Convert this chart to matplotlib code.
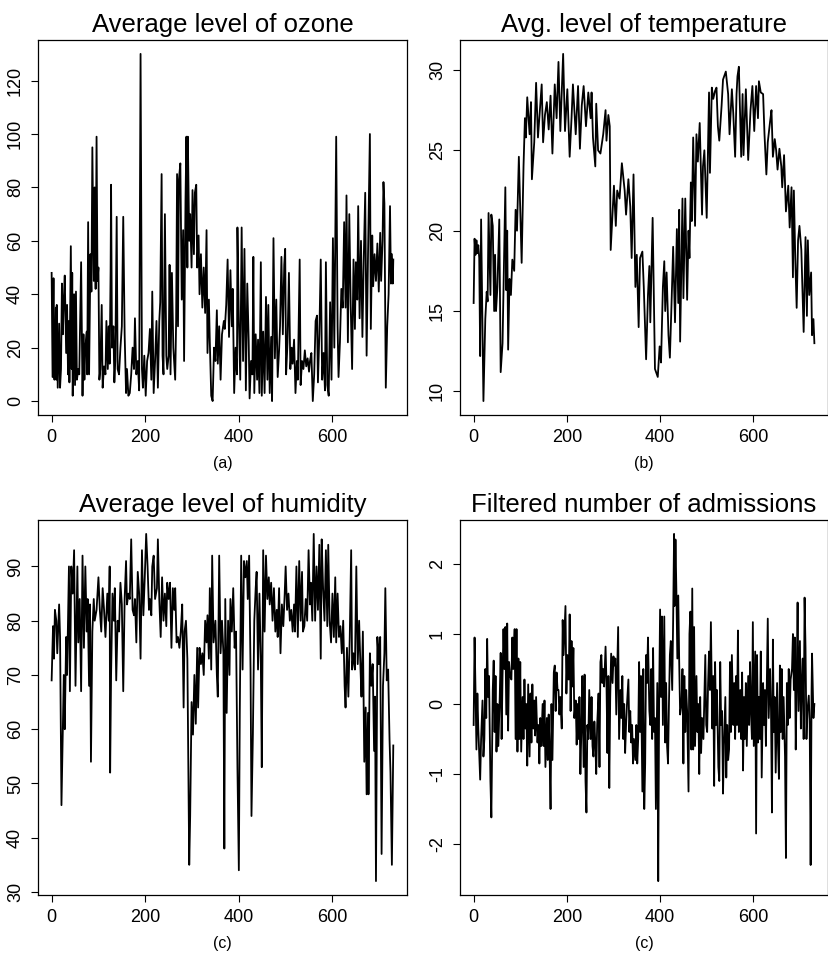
import matplotlib
matplotlib.use("Agg")
import matplotlib.pyplot as plt
import numpy as np

plt.rcParams["font.family"] = ["Liberation Sans", "DejaVu Sans"]
plt.rcParams["axes.unicode_minus"] = False

# values, day index -> level
ozone_day = [
    0, 2, 4, 5, 6, 9, 10, 11, 13, 16,
    18, 20, 22, 24, 26, 28, 31, 33, 35, 37,
    38, 41, 43, 44, 45, 48, 50, 52, 54, 57,
    59, 63, 66, 68, 70, 72, 75, 76, 78, 80,
    83, 85, 87, 90, 92, 94, 96, 98, 100, 102,
    104, 107, 109, 112, 115, 117, 120, 122, 124, 126,
    127, 129, 132, 134, 136, 139, 141, 144, 147, 150,
    153, 156, 159, 161, 164, 167, 170, 173, 176, 178,
    181, 184, 187, 190, 193, 195, 198, 201, 204, 207,
    210, 213, 215, 218, 221, 224, 227, 230, 232, 235,
    237, 239, 242, 245, 247, 250, 252, 254, 257, 260,
    264, 266, 268, 270, 272, 275, 278, 281, 283, 286,
    288, 290, 291, 294, 296, 299, 301, 304, 306, 309,
    311, 314, 316, 319, 322, 325, 328, 331, 333, 336,
    338, 341, 344, 347, 350, 353, 355, 358, 361, 364,
    368, 370, 373, 376, 379, 382, 385, 387, 390, 393,
    396, 397, 400, 403, 406, 409, 412, 415, 418, 421,
    423, 426, 429, 431, 433, 436, 439, 441, 444, 447,
    449, 452, 455, 458, 461, 463, 466, 469, 471, 474,
    477, 480, 483, 486, 488, 491, 494, 497, 499, 501,
    504, 507, 510, 513, 515, 518, 521, 524, 526, 530,
    532, 535, 538, 541, 544, 547, 550, 552, 555, 558,
    561, 564, 567, 569, 572, 575, 578, 581, 584, 586,
    589, 592, 595, 598, 601, 604, 608, 611, 613, 616,
    619, 622, 625, 628, 630, 633, 636, 639, 642, 645,
    648, 650, 653, 655, 658, 661, 664, 667, 670, 673,
    676, 680, 682, 685, 687, 690, 693, 696, 699, 702,
    704, 707, 709, 711, 714, 717, 720, 723, 725, 727,
    729, 730,
]
ozone = [
    48, 9, 46, 20, 8, 35, 8, 36, 5, 29,
    5, 12, 44, 25, 38, 47, 18, 36, 10, 30,
    7, 58, 12, 48, 2, 40, 6, 41, 8, 12,
    10, 52, 2, 25, 8, 20, 26, 10, 67, 10,
    55, 41, 95, 45, 80, 42, 99, 45, 50, 8,
    12, 36, 5, 13, 10, 30, 12, 28, 14, 49,
    81, 20, 28, 7, 15, 69, 12, 10, 20, 28,
    69, 25, 3, 12, 2, 3, 10, 20, 12, 31,
    10, 15, 4, 130, 12, 5, 17, 2, 15, 18,
    27, 8, 41, 3, 15, 30, 5, 30, 37, 85,
    17, 10, 70, 17, 12, 17, 51, 10, 48, 20,
    8, 30, 85, 28, 83, 89, 38, 64, 15, 75,
    99, 50, 99, 60, 70, 50, 79, 55, 78, 81,
    50, 62, 40, 55, 35, 50, 33, 64, 18, 38,
    22, 2, 0, 20, 15, 34, 14, 28, 8, 25,
    30, 27, 36, 53, 24, 49, 28, 42, 3, 20,
    10, 65, 30, 8, 65, 15, 57, 4, 44, 23,
    1, 15, 10, 54, 3, 25, 8, 23, 3, 52,
    2, 26, 3, 39, 8, 36, 3, 24, 0, 61,
    16, 38, 9, 19, 28, 54, 25, 51, 57, 10,
    22, 48, 12, 20, 14, 23, 3, 15, 8, 53,
    6, 15, 12, 19, 13, 16, 11, 15, 18, 0,
    10, 30, 32, 7, 25, 53, 8, 18, 4, 52,
    6, 2, 37, 8, 61, 20, 99, 28, 9, 22,
    42, 35, 67, 35, 77, 22, 70, 36, 12, 53,
    27, 52, 38, 73, 31, 60, 24, 54, 78, 17,
    55, 100, 27, 62, 43, 55, 45, 59, 41, 63,
    45, 60, 82, 74, 5, 28, 40, 73, 44, 55,
    44, 53,
]

temp_day = [
    0, 2, 4, 6, 8, 10, 12, 14, 16, 21,
    25, 28, 30, 32, 36, 38, 41, 44, 46, 48,
    51, 55, 58, 62, 68, 70, 72, 74, 77, 80,
    83, 87, 90, 93, 97, 103, 107, 110, 112, 115,
    120, 123, 125, 130, 134, 138, 142, 146, 149, 153,
    157, 161, 165, 169, 174, 178, 182, 186, 192, 196,
    201, 206, 210, 213, 219, 224, 228, 232, 236, 241,
    246, 251, 253, 256, 261, 263, 267, 272, 278, 283,
    285, 289, 292, 294, 297, 301, 305, 308, 313, 318,
    324, 327, 332, 336, 339, 343, 347, 350, 354, 357,
    362, 365, 370, 374, 377, 379, 384, 389, 395, 399,
    402, 406, 409, 411, 414, 418, 421, 425, 428, 432,
    436, 439, 441, 443, 448, 450, 454, 458, 461, 463,
    466, 468, 471, 475, 478, 481, 485, 490, 492, 495,
    500, 505, 507, 511, 514, 518, 521, 524, 527, 532,
    535, 541, 546, 549, 554, 557, 561, 564, 566, 569,
    574, 577, 579, 584, 589, 594, 598, 602, 606, 610,
    612, 616, 621, 624, 628, 631, 636, 639, 642, 646,
    649, 652, 656, 660, 662, 666, 670, 675, 678, 682,
    685, 687, 690, 693, 696, 699, 703, 708, 712, 715,
    717, 720, 724, 726, 729, 731,
]
temp = [
    15.5, 19.5, 18.5, 19.4, 18.6, 19.1, 18.3, 12.2, 20.7, 9.4,
    14.5, 16.2, 15.6, 21.1, 16.0, 21.0, 20.3, 15.0, 18.5, 15.0,
    16.5, 20.7, 11.2, 13.0, 22.7, 16.3, 20.0, 12.6, 17.0, 16.0,
    18.2, 17.5, 21.3, 20.0, 24.6, 18.0, 24.0, 27.0, 25.8, 28.3,
    26.0, 28.0, 23.2, 25.5, 29.2, 25.8, 27.5, 29.1, 25.5, 27.2,
    28.0, 26.3, 28.4, 24.8, 29.1, 27.0, 30.5, 26.2, 31.0, 26.2,
    28.8, 24.6, 27.0, 29.1, 26.0, 29.0, 25.1, 27.8, 29.0, 26.5,
    28.6, 27.0, 28.6, 25.8, 24.0, 27.9, 25.0, 24.8, 26.0, 27.5,
    25.6, 27.2, 26.5, 18.8, 20.5, 22.8, 20.3, 22.5, 22.0, 24.2,
    22.5, 21.0, 23.2, 21.5, 18.3, 23.5, 16.5, 18.5, 14.0, 18.3,
    18.7, 16.5, 12.0, 16.0, 17.8, 14.3, 20.8, 11.4, 10.9, 12.8,
    11.8, 16.5, 18.1, 15.0, 17.4, 13.5, 12.1, 15.9, 19.0, 14.3,
    20.1, 15.5, 21.3, 13.1, 22.0, 15.8, 22.0, 15.7, 20.0, 18.3,
    23.0, 20.6, 25.8, 20.3, 26.0, 24.3, 26.7, 21.0, 24.0, 25.0,
    20.8, 28.6, 23.6, 28.9, 28.2, 28.7, 28.9, 26.5, 25.6, 27.8,
    29.4, 29.9, 28.5, 26.0, 28.8, 27.3, 24.6, 28.5, 29.6, 30.2,
    24.6, 28.5, 24.7, 28.8, 24.4, 27.5, 29.0, 26.2, 29.0, 27.0,
    29.3, 28.6, 28.5, 26.0, 23.5, 25.5, 26.8, 27.5, 24.6, 25.7,
    25.0, 23.8, 25.1, 24.0, 22.7, 24.7, 21.2, 22.8, 20.2, 22.7,
    17.1, 22.5, 18.3, 15.2, 19.4, 20.3, 18.8, 13.7, 19.6, 14.7,
    19.4, 16.0, 17.4, 13.5, 14.5, 13.0,
]

humid_day = [
    0, 3, 5, 7, 10, 12, 16, 18, 21, 24,
    26, 28, 31, 33, 37, 39, 42, 45, 48, 51,
    55, 57, 60, 63, 66, 69, 72, 75, 77, 80,
    82, 84, 87, 90, 92, 96, 100, 103, 106, 109,
    112, 115, 119, 122, 124, 125, 127, 130, 133, 135,
    138, 141, 144, 147, 150, 153, 156, 159, 161, 164,
    167, 170, 173, 176, 178, 181, 184, 187, 190, 193,
    196, 199, 202, 205, 208, 210, 213, 215, 218, 221,
    225, 227, 230, 233, 236, 239, 242, 245, 247, 250,
    253, 256, 259, 262, 264, 267, 270, 273, 276, 279,
    282, 284, 287, 290, 294, 296, 299, 302, 305, 308,
    311, 313, 316, 319, 322, 325, 328, 331, 333, 336,
    338, 341, 343, 346, 350, 353, 355, 358, 361, 364,
    367, 369, 371, 374, 377, 380, 382, 385, 388, 391,
    394, 397, 400, 402, 405, 408, 411, 414, 417, 419,
    422, 425, 427, 430, 433, 436, 438, 441, 444, 447,
    449, 452, 455, 458, 461, 464, 466, 469, 472, 475,
    478, 481, 483, 486, 489, 492, 495, 498, 500, 503,
    506, 509, 512, 515, 518, 520, 523, 526, 529, 532,
    535, 537, 540, 543, 546, 549, 552, 554, 557, 560,
    563, 566, 569, 572, 575, 577, 580, 583, 586, 589,
    591, 594, 597, 600, 603, 606, 608, 611, 614, 617,
    620, 623, 626, 628, 631, 634, 637, 640, 642, 645,
    648, 651, 654, 657, 660, 662, 665, 668, 671, 673,
    676, 677, 680, 683, 686, 689, 691, 693, 696, 699,
    702, 705, 708, 711, 713, 716, 719, 722, 724, 727,
    730,
]
humid = [
    69, 79, 73, 82, 80, 74, 83, 77, 46, 60,
    70, 60, 77, 70, 90, 67, 90, 85, 93, 68,
    90, 76, 84, 67, 92, 75, 90, 78, 84, 68,
    83, 54, 78, 84, 80, 82, 88, 82, 78, 86,
    82, 77, 85, 80, 90, 52, 70, 85, 80, 86,
    69, 80, 78, 87, 83, 67, 84, 91, 83, 85,
    84, 95, 82, 81, 84, 76, 89, 85, 73, 93,
    81, 88, 96, 90, 82, 84, 81, 90, 92, 84,
    86, 95, 84, 77, 88, 80, 85, 79, 87, 84,
    87, 75, 86, 82, 86, 76, 77, 75, 78, 83,
    64, 78, 80, 73, 35, 44, 65, 59, 70, 61,
    75, 64, 75, 72, 74, 70, 80, 76, 81, 73,
    86, 71, 92, 76, 80, 70, 66, 92, 74, 80,
    74, 38, 84, 63, 80, 70, 84, 78, 86, 75,
    78, 53, 34, 63, 92, 71, 91, 88, 91, 84,
    92, 71, 44, 59, 80, 86, 89, 71, 85, 72,
    53, 93, 78, 92, 84, 88, 83, 87, 80, 86,
    78, 82, 77, 86, 74, 83, 79, 85, 90, 82,
    85, 80, 82, 78, 83, 78, 90, 77, 91, 80,
    89, 78, 79, 84, 80, 93, 83, 87, 80, 96,
    80, 90, 82, 94, 73, 95, 86, 80, 93, 79,
    94, 80, 76, 85, 77, 88, 76, 85, 77, 79,
    74, 80, 68, 64, 75, 66, 77, 93, 71, 74,
    71, 90, 72, 80, 71, 66, 78, 54, 64, 48,
    63, 48, 74, 68, 72, 56, 66, 32, 77, 72,
    77, 37, 68, 74, 86, 69, 71, 58, 52, 35,
    57,
]

adm_day = [
    0, 2, 4, 6, 8, 10, 12, 14, 16, 19,
    21, 23, 25, 27, 29, 31, 33, 36, 38, 41,
    43, 45, 47, 49, 51, 53, 56, 58, 60, 62,
    64, 66, 68, 70, 72, 74, 76, 78, 81, 83,
    85, 88, 90, 92, 94, 96, 98, 100, 102, 105,
    107, 109, 111, 113, 115, 117, 120, 122, 124, 126,
    128, 130, 132, 134, 137, 139, 141, 143, 145, 148,
    150, 152, 154, 157, 159, 161, 163, 165, 167, 169,
    172, 174, 176, 178, 180, 182, 184, 186, 189, 191,
    193, 195, 197, 199, 201, 204, 206, 208, 210, 212,
    214, 216, 219, 221, 223, 225, 227, 229, 231, 233,
    236, 238, 240, 242, 244, 246, 248, 251, 253, 255,
    257, 259, 261, 263, 265, 268, 270, 272, 274, 276,
    278, 280, 283, 285, 287, 289, 291, 293, 295, 298,
    300, 302, 304, 306, 308, 310, 312, 315, 317, 319,
    321, 323, 325, 327, 329, 332, 334, 336, 338, 340,
    342, 344, 347, 349, 351, 353, 355, 357, 359, 362,
    364, 366, 368, 370, 372, 374, 377, 379, 381, 383,
    385, 387, 389, 391, 394, 396, 398, 400, 402, 404,
    406, 409, 411, 413, 415, 417, 419, 421, 423, 426,
    428, 430, 431, 433, 435, 437, 439, 441, 443, 446,
    448, 450, 452, 454, 456, 458, 461, 463, 465, 467,
    469, 471, 473, 475, 478, 480, 482, 484, 486, 488,
    490, 493, 495, 497, 499, 501, 503, 505, 507, 509,
    512, 514, 516, 518, 520, 522, 525, 527, 529, 531,
    533, 535, 537, 540, 542, 544, 546, 548, 550, 552,
    554, 557, 559, 561, 563, 565, 567, 569, 572, 574,
    576, 578, 580, 582, 584, 586, 589, 591, 593, 595,
    597, 599, 601, 604, 606, 608, 610, 612, 614, 616,
    618, 621, 623, 625, 627, 629, 631, 633, 636, 638,
    640, 642, 644, 646, 648, 651, 653, 655, 657, 659,
    661, 663, 665, 668, 670, 672, 674, 676, 678, 680,
    683, 685, 687, 689, 691, 693, 695, 697, 700, 702,
    704, 706, 708, 710, 712, 714, 716, 719, 721, 723,
    725, 726, 729, 731,
]
adm = [
    -0.3, 0.95, 0.2, -0.65, 0.15, -0.35, -0.7, -1.08, -0.5, 0.05,
    -0.75, -0.5, 0.5, -0.2, 0.93, 0.1, 0.4, -1.1, -1.62, 0.2,
    0.62, -0.4, 0.4, -0.68, 0.0, -0.6, 0.1, 0.73, -0.5, 0.4,
    1.07, 0.5, 1.1, -0.15, 1.15, -0.38, 0.6, 0.4, 0.35, 0.95,
    0.5, 1.07, -0.5, 1.07, -0.68, 0.65, -0.5, 0.6, -0.68, 0.1,
    -0.5, 0.35, -0.35, 0.0, -0.88, 0.28, -0.75, 0.15, -0.55, 0.28,
    -0.35, 0.05, -0.45, 0.1, -0.55, -0.3, -0.85, -0.2, -0.6, 0.0,
    -0.6, 0.05, -0.9, -0.2, -0.8, -0.15, -0.7, -1.5, 0.0, -0.8,
    0.45, 0.55, -0.1, 0.45, 0.2, 0.2, -0.15, 0.1, -0.35, 1.2,
    0.7, 1.05, 1.4, 0.15, 0.7, 0.35, 1.28, -0.1, 0.9, 0.25,
    0.8, -0.2, 0.05, -0.58, 0.0, -0.5, 0.1, -1.0, -0.4, 0.4,
    -0.9, 0.42, -1.1, -1.55, -0.3, -0.5, 0.2, -0.5, 0.1, -0.6,
    -0.75, -0.25, -0.55, -1.0, -0.3, 0.15, -0.9, 0.6, 0.7, 0.3,
    0.5, 0.25, 0.82, 0.3, -0.7, 0.4, -1.2, 0.1, 0.72, 0.3,
    0.68, 0.55, 0.65, -0.15, 0.5, 1.1, -0.5, 0.2, -0.2, 0.4,
    -0.5, 0.0, -0.7, -0.3, 0.0, 0.35, -0.4, -0.1, -0.55, -0.3,
    -0.85, -0.5, -0.8, -0.3, -0.85, -0.5, 0.6, -0.4, 0.4, -1.25,
    0.5, -1.5, -0.85, 0.7, 0.3, 0.95, -0.1, -0.3, 0.5, -0.5,
    0.8, -0.4, -0.2, -1.5, 0.3, -2.53, 0.1, 1.35, 0.1, 1.25,
    -0.3, 1.25, -0.55, 0.3, -0.6, -0.85, 0.0, 0.7, 0.9, 0.2,
    1.2, 2.43, 1.4, 2.35, 1.6, 0.65, 1.55, 0.6, -0.15, 0.0,
    0.5, -0.85, 0.4, -0.4, 0.2, -0.1, -1.25, 1.0, 1.32, -0.65,
    1.65, -0.65, 1.1, -0.6, 0.4, -0.4, 0.0, -1.0, 0.1, -0.7,
    -0.2, -0.5, 0.1, 0.7, -0.3, -0.4, 0.3, 0.75, 0.2, 1.17,
    -0.35, 0.4, -1.17, 0.6, -0.3, 0.2, -0.9, -1.1, 0.6, -0.3,
    -0.1, -1.28, -0.6, 0.1, -1.05, -0.3, -0.8, -0.65, 0.6, -0.4,
    0.7, -0.3, 0.3, -0.5, 0.4, -0.3, 1.05, -0.4, 0.2, -0.5,
    0.45, -0.95, 0.1, -0.5, 0.3, -0.6, 0.4, -0.3, 0.6, -0.1,
    -0.5, 1.17, -0.6, 0.75, -1.85, 0.7, -0.55, 0.1, -0.5, 0.75,
    -1.05, 0.3, -0.3, 0.2, -0.6, 0.3, 1.22, -0.2, 0.5, -0.1,
    -1.55, 0.92, -0.4, 0.1, -0.98, 0.3, -0.6, -1.07, 0.55, -0.4,
    0.5, -0.5, 0.1, -0.75, -2.2, 0.3, -0.3, 0.5, -0.2, 0.35,
    0.5, 1.0, 0.2, 0.95, -0.65, 0.3, 1.45, -0.1, 0.9, -0.35,
    0.3, 0.65, -0.5, 1.52, 0.8, -0.5, -0.1, 0.12, -0.3, -2.3,
    0.2, 0.72, -0.2, 0.0,
]

x_ticks = [0, 200, 400, 600]


def draw_panel(ax, days, values, title, label, yticks):
    """One R-style base-graphics time series panel."""
    ax.plot(np.asarray(days), np.asarray(values), color="black", lw=1.3)
    ax.margins(x=0.04, y=0.04)
    ax.set_title(title, fontsize=18.5, pad=6)
    ax.set_xlabel(label, fontsize=11.5, labelpad=7)
    ax.set_xticks(x_ticks)
    ax.set_yticks(yticks)
    ax.tick_params(direction="out", length=5, width=0.8, labelsize=13, pad=5)
    ax.tick_params(axis="y", labelrotation=90)
    for lab in ax.get_yticklabels():
        lab.set_va("center")
    for sp in ax.spines.values():
        sp.set_linewidth(0.9)


fig = plt.figure(figsize=(8.29, 9.57), dpi=100)
ax_a = fig.add_axes([0.0458, 0.5664, 0.4451, 0.3918])
ax_b = fig.add_axes([0.5549, 0.5664, 0.4439, 0.3918])
ax_c = fig.add_axes([0.0458, 0.0648, 0.4451, 0.3918])
ax_d = fig.add_axes([0.5549, 0.0648, 0.4439, 0.3918])

draw_panel(ax_a, ozone_day, ozone, "Average level of ozone", "(a)",
           [0, 20, 40, 60, 80, 100, 120])
draw_panel(ax_b, temp_day, temp, "Avg. level of temperature", "(b)",
           [10, 15, 20, 25, 30])
draw_panel(ax_c, humid_day, humid, "Average level of humidity", "(c)",
           [30, 40, 50, 60, 70, 80, 90])
draw_panel(ax_d, adm_day, adm, "Filtered number of admissions", "(c)",
           [-2, -1, 0, 1, 2])

fig.savefig("out.png", dpi=100)
